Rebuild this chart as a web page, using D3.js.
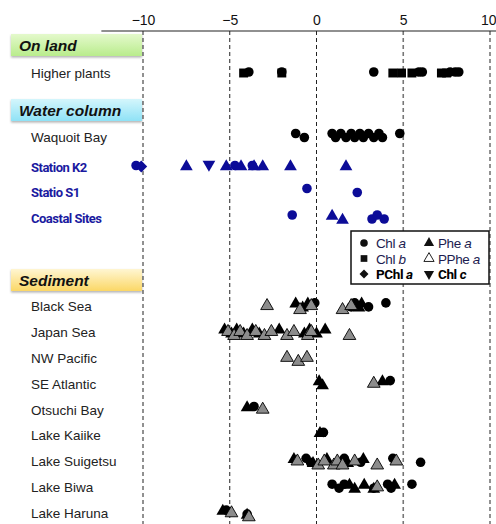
<!DOCTYPE html>
<html>
<head>
<meta charset="utf-8">
<script src="https://cdn.jsdelivr.net/npm/d3@7"></script>
<style>
  body { margin: 0; background: #fff; }
  svg { font-family: "Liberation Sans", Arial, sans-serif; }
</style>
</head>
<body>
<svg id="chart" width="496" height="524"></svg>
<script>
// rows, top to bottom (headers marked with type "h")
var rows = [
  ["On land", "h"], ["Higher plants", "r"],
  ["Water column", "h"], ["Waquoit Bay", "r"], ["Station K2", "b"], ["Statio S1", "b"], ["Coastal Sites", "b"],
  ["Sediment", "h"], ["Black Sea", "r"], ["Japan Sea", "r"], ["NW Pacific", "r"], ["SE Atlantic", "r"],
  ["Otsuchi Bay", "r"], ["Lake Kaiike", "r"], ["Lake Suigetsu", "r"], ["Lake Biwa", "r"], ["Lake Haruna", "r"]
];
var ticks = [-10, -5, 0, 5, 10];

// values (per pigment, per site)
var chlA = [
  ["Higher plants", [-3.9, -2.0, 3.3, 5.9, 6.1, 7.7, 8.0, 8.2]],
  ["Waquoit Bay", [-1.2, -0.7, 0.9, 1.1, 1.4, 1.7, 2.0, 2.2, 2.5, 2.7, 3.0, 3.3, 3.6, 3.8, 4.8]],
  ["Station K2", [-10.4, -4.7, -3.7]],
  ["Statio S1", [-0.55, 2.35]],
  ["Coastal Sites", [-1.4, 3.2, 3.5, 3.9]],
  ["Black Sea", [-0.1, 2.0, 2.2, 3.0, 4.0]],
  ["SE Atlantic", [4.25]],
  ["Otsuchi Bay", [-3.6]],
  ["Lake Kaiike", [0.4]],
  ["Lake Suigetsu", [-0.6, -0.35, 1.6, 2.55, 4.4, 6.0]],
  ["Lake Biwa", [0.9, 1.3, 1.6, 3.3, 4.1, 4.3, 5.5]],
  ["Lake Haruna", [-5.2, -4.0]]
];
var chlB = [
  ["Higher plants", [-4.2, -2.0, 4.4, 4.9, 5.5, 7.2, 7.5]]
];
var pchlA = [
  ["Station K2", [-10.1]]
];
var chlC = [
  ["Station K2", [-6.2]]
];
var pheA = [
  ["Station K2", [-7.5, -5.2, -4.35, -3.6, -3.1, -1.5, 1.7]],
  ["Coastal Sites", [0.9, 1.5]],
  ["Black Sea", [-1.2, -0.8, -0.5, 2.45, 2.6]],
  ["Japan Sea", [-5.3, -4.9, -4.6, -4.2, -3.7, -3.3, -2.15, -0.7, -0.4, 0.0, 0.5]],
  ["SE Atlantic", [0.15, 0.35, 3.8]],
  ["Otsuchi Bay", [-4.0]],
  ["Lake Kaiike", [0.2]],
  ["Lake Suigetsu", [-1.3, -0.2, 0.6, 1.8, 2.7]],
  ["Lake Biwa", [1.9, 2.2, 2.75, 3.3, 4.5]],
  ["Lake Haruna", [-5.4, -4.0]]
];
var ppheA = [
  ["Black Sea", [-2.85, -0.95, -0.3, 1.5, 2.0]],
  ["Japan Sea", [-5.1, -4.75, -4.4, -4.0, -3.5, -3.0, -2.6, -1.7, -1.3, -0.5, -0.3, 1.9]],
  ["NW Pacific", [-1.7, -1.05, -0.55]],
  ["SE Atlantic", [3.3]],
  ["Otsuchi Bay", [-3.1]],
  ["Lake Suigetsu", [-1.1, 0.1, 0.45, 1.0, 1.2, 1.5, 2.2, 3.5, 4.6]],
  ["Lake Biwa", [3.5]],
  ["Lake Haruna", [-4.9, -3.9]]
];

var svg = d3.select("#chart");
var blue = "#0c0c98";

var x = d3.scaleLinear().domain([-10, 10]).range([143, 490]);

// row positions
var yPos = {};
var yy = 45;
var inSed = false;
rows.forEach(function(r, i) {
  if (i > 0) {
    if (r[0] == "Water column") yy += 37;
    else if (r[0] == "Sediment") { yy += 62; inSed = true; }
    else if (r[0] == "Higher plants") yy += 28;
    else if (r[0] == "Station K2") yy += 30;
    else if (r[0] == "Statio S1") yy += 25;
    else yy += inSed ? 25.9 : 26.5;
  }
  yPos[r[0]] = yy;
});

// gradients for the header boxes
var defs = svg.append("defs");
function grad(id, c1, c2) {
  var g = defs.append("linearGradient").attr("id", id).attr("x1", 0).attr("y1", 0).attr("x2", 0).attr("y2", 1);
  g.append("stop").attr("offset", "0%").attr("stop-color", c1);
  g.append("stop").attr("offset", "100%").attr("stop-color", c2);
}
grad("gLand", "#e4f9cc", "#b9ec8c");
grad("gWater", "#d4f6fc", "#8fe2f6");
grad("gSed", "#fff6d2", "#fbd766");
var headFill = { "On land": "url(#gLand)", "Water column": "url(#gWater)", "Sediment": "url(#gSed)" };
var f = defs.append("filter").attr("id", "shadow").attr("x", "-5%").attr("y", "-20%").attr("width", "110%").attr("height", "150%");
f.append("feDropShadow").attr("dx", 0).attr("dy", 1.5).attr("stdDeviation", 1).attr("flood-color", "#000").attr("flood-opacity", 0.3);

// grid lines
svg.append("g").selectAll("line")
  .data(ticks)
  .enter().append("line")
    .attr("x1", function(d) { return x(d); })
    .attr("x2", function(d) { return x(d); })
    .attr("y1", 31).attr("y2", 524)
    .attr("stroke", function(d) { return d > 0 ? "#777" : "#222"; })
    .attr("stroke-width", function(d) { return d > 0 ? 1.6 : 1; })
    .attr("stroke-dasharray", "4,3");

// top axis
var axis = svg.append("g")
  .attr("transform", "translate(0,31)")
  .call(d3.axisTop(x).tickValues(ticks).tickSize(0).tickPadding(6));
axis.select(".domain").remove();
axis.selectAll("text").attr("font-size", 14).attr("fill", "#111").attr("font-family", "Liberation Sans, Arial, sans-serif");
axis.selectAll(".tick").filter(function(d) { return d == 10; }).select("text")
  .attr("text-anchor", "end").attr("dx", 6);
svg.append("line")
  .attr("x1", x(-12.4)).attr("x2", 496)
  .attr("y1", 31).attr("y2", 31)
  .attr("stroke", "#222").attr("stroke-width", 1.2);

// header boxes + labels
rows.forEach(function(r) {
  var y = yPos[r[0]];
  if (r[1] == "h") {
    svg.append("rect")
      .attr("x", 11).attr("y", y - 11)
      .attr("width", x(-10) - 12).attr("height", 22)
      .attr("fill", headFill[r[0]])
      .attr("filter", "url(#shadow)");
    svg.append("text")
      .attr("x", 19).attr("y", y + 5.5)
      .attr("font-size", 15.5).attr("font-weight", "bold").attr("font-style", "italic")
      .attr("fill", "#111")
      .text(r[0]);
  } else if (r[1] == "b") {
    svg.append("text")
      .attr("x", 31).attr("y", y + 5)
      .attr("font-family", "Roboto, sans-serif")
      .attr("font-size", 13).attr("font-weight", "bold").attr("letter-spacing", -0.5)
      .attr("fill", "#1a1aa0")
      .text(r[0]);
  } else {
    svg.append("text")
      .attr("x", 31).attr("y", y + 5)
      .attr("font-size", 13.5).attr("fill", "#222")
      .text(r[0]);
  }
});

var sym = {
  circle: d3.symbol().type(d3.symbolCircle).size(72),
  square: d3.symbol().type(d3.symbolSquare).size(80),
  diamond: d3.symbol().type(d3.symbolSquare).size(70),
  tri: d3.symbol().type(d3.symbolTriangle).size(70)
};

function rowColor(row) {
  return (row == "Station K2" || row == "Statio S1" || row == "Coastal Sites") ? blue : "#000";
}

function drawSeries(data, shape, opt) {
  var pts = [];
  data.forEach(function(r) {
    r[1].forEach(function(v, i) { pts.push({ row: r[0], v: v, i: i }); });
  });
  svg.append("g").selectAll("path")
    .data(pts)
    .enter().append("path")
      .attr("d", sym[shape])
      .attr("transform", function(d) {
        var jit = (d.row == "Higher plants" || d.row == "Station K2") ? 0 : ((d.i % 2) ? 2 : -2);
        var rot = opt.down ? " rotate(180)" : (shape == "diamond" ? " rotate(45)" : "");
        return "translate(" + x(d.v) + "," + (yPos[d.row] + (opt.dy || 0) + jit) + ")" + rot;
      })
      .attr("fill", function(d) { return opt.fill || rowColor(d.row); })
      .attr("stroke", function(d) { return opt.fill ? "#000" : "none"; })
      .attr("stroke-width", 0.9);
}

drawSeries(chlB, "square", {});
drawSeries(chlA, "circle", { dy: -1 });
drawSeries(pchlA, "diamond", {});
drawSeries(chlC, "tri", { down: true, dy: -2 });
drawSeries(pheA, "tri", { dy: 0 });
drawSeries(ppheA, "tri", { fill: "#8c8c8c", dy: 2 });

// legend
var lg = svg.append("g").attr("transform", "translate(351,231)");
lg.append("rect").attr("width", 138).attr("height", 53)
  .attr("fill", "#fff").attr("stroke", "#111").attr("stroke-width", 1.5);

var legendItems = [
  { shape: "circle", name: "Chl ", it: "a", col: 0, row: 0 },
  { shape: "tri", name: "Phe ", it: "a", col: 1, row: 0 },
  { shape: "square", name: "Chl ", it: "b", col: 0, row: 1 },
  { shape: "tri", name: "PPhe ", it: "a", col: 1, row: 1, hollow: true },
  { shape: "diamond", name: "PChl ", it: "a", col: 0, row: 2, bold: true },
  { shape: "tri", name: "Chl ", it: "c", col: 1, row: 2, bold: true, down: true }
];
var li = lg.selectAll("g.item")
  .data(legendItems)
  .enter().append("g")
    .attr("class", "item")
    .attr("transform", function(d) { return "translate(" + (d.col ? 78 : 13) + "," + (12 + d.row * 15.5) + ")"; });
li.append("path")
  .attr("d", function(d) {
    return d3.symbol().type(d.shape == "circle" ? d3.symbolCircle : (d.shape == "square" || d.shape == "diamond") ? d3.symbolSquare :
      d3.symbolTriangle).size(d.shape == "diamond" ? 40 : 45)();
  })
  .attr("transform", function(d) { return d.down ? "rotate(180)" : d.shape == "diamond" ? "rotate(45)" : null; })
  .attr("fill", function(d) { return d.hollow ? "#fff" : "#111"; })
  .attr("stroke", function(d) { return d.hollow ? "#222" : "none"; });
var lt = li.append("text")
  .attr("x", function(d) { return d.col ? 9 : 12; })
  .attr("y", 5)
  .attr("font-family", function(d) { return d.bold ? "Roboto, sans-serif" : "Liberation Sans, Arial, sans-serif"; })
  .attr("font-size", 13.5)
  .attr("font-weight", function(d) { return d.bold ? "bold" : null; })
  .attr("letter-spacing", -0.4)
  .attr("fill", function(d) { return d.bold ? "#000" : "#1c1c50"; });
lt.append("tspan").text(function(d) { return d.name; });
lt.append("tspan").attr("font-style", "italic").text(function(d) { return d.it; });
</script>
</body>
</html>
